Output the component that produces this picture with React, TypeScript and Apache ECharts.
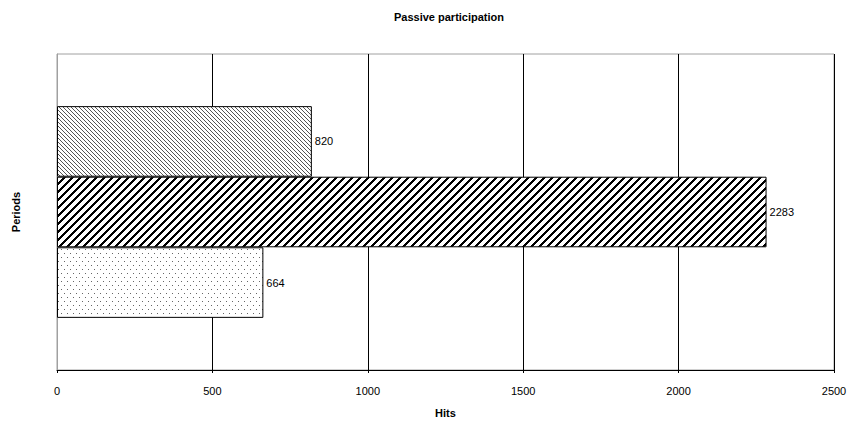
import React, { useEffect, useRef } from "react";
import * as echarts from "echarts";

const title = "Passive participation";
const xAxisName = "Hits";
const yAxisName = "Periods";
const categories = [""];
const seriesNames = ["Period 1", "Period 2", "Period 3"];
const seriesValues = [820, 2283, 664];
const xTicks = { min: 0, max: 2500, interval: 500 };

function makePattern(kind: number): string {
  const c = document.createElement("canvas");
  const ctx = c.getContext("2d")!;
  if (kind === 0) {
    c.width = 4; c.height = 4;
    ctx.fillStyle = "#fff"; ctx.fillRect(0, 0, 4, 4);
    ctx.fillStyle = "#555";
    for (let i = 0; i < 4; i++) ctx.fillRect(i, i, 1, 1);
  } else if (kind === 1) {
    c.width = 8; c.height = 8;
    ctx.fillStyle = "#fff"; ctx.fillRect(0, 0, 8, 8);
    ctx.fillStyle = "#000";
    for (let y = 0; y < 8; y++) {
      for (let x = 0; x < 8; x++) {
        const d = (x + y) % 8;
        if (d < 3) ctx.fillRect(x, y, 1, 1);
      }
    }
  } else {
    c.width = 6; c.height = 8;
    ctx.fillStyle = "#fff"; ctx.fillRect(0, 0, 6, 8);
    ctx.fillStyle = "#666";
    ctx.fillRect(1, 1, 1, 1);
    ctx.fillRect(4, 5, 1, 1);
  }
  return c.toDataURL();
}

export default function App() {
  const ref = useRef<HTMLDivElement>(null);
  useEffect(() => {
    const chart = echarts.init(ref.current!, null, { renderer: "svg" });
    const font = "Liberation Sans, Arial, sans-serif";
    chart.setOption({
      animation: false,
      backgroundColor: "#fff",
      title: {
        text: title,
        left: 444,
        textAlign: "center",
        top: 6,
        textStyle: { fontSize: 11, fontWeight: "bold", fontFamily: font, color: "#000" },
      },
      grid: {
        left: 57, right: 19, top: 54, bottom: 51,
        show: true, borderColor: "#a0a0a0", borderWidth: 1, backgroundColor: "transparent",
        containLabel: false,
      },
      xAxis: {
        type: "value",
        min: xTicks.min, max: xTicks.max, interval: xTicks.interval,
        name: xAxisName,
        nameLocation: "middle",
        nameGap: 37,
        nameTextStyle: { fontSize: 11, fontWeight: "bold", fontFamily: font, color: "#000" },
        axisLine: { show: true, lineStyle: { color: "#000", width: 1 } },
        axisTick: { show: true, length: 3, lineStyle: { color: "#000" } },
        axisLabel: { fontSize: 11, fontFamily: font, color: "#000", margin: 15, formatter: (v: number) => String(v) },
        splitLine: { show: true, lineStyle: { color: "#000", width: 1 } },
      },
      yAxis: {
        type: "category",
        data: categories,
        name: yAxisName,
        nameLocation: "middle",
        nameGap: 36,
        nameRotate: 90,
        nameTextStyle: { fontSize: 11, fontWeight: "bold", fontFamily: font, color: "#000" },
        axisLine: { show: true, lineStyle: { color: "#a0a0a0" } },
        axisTick: { show: false },
        axisLabel: { show: false },
      },
      series: seriesNames.map((name, i) => ({
        type: "bar",
        name,
        data: [seriesValues[i]],
        barGap: "0%",
        barCategoryGap: "33%",
        itemStyle: {
          color: { image: makePattern(i), repeat: "repeat" },
          borderColor: "#000",
          borderWidth: 1,
        },
        label: {
          show: true,
          position: "right",
          distance: 3,
          fontSize: 11,
          fontFamily: font,
          color: "#000",
        },
      })),
    });
    return () => chart.dispose();
  }, []);
  return (
    <div
      ref={ref}
      style={{ position: "fixed", left: 0, top: 0, width: 853, height: 423 }}
    />
  );
}
